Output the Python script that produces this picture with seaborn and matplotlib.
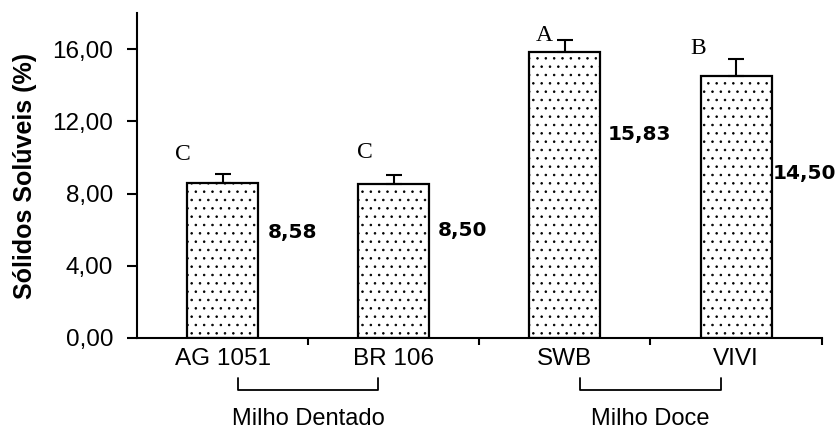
import numpy as np
import matplotlib
matplotlib.use("Agg")
import matplotlib.pyplot as plt
import matplotlib.transforms as mtransforms
import seaborn as sns

# dados
cultivares = ["AG 1051", "BR 106", "SWB", "VIVI"]
solidos = [8.58, 8.50, 15.83, 14.50]
erros = [0.50, 0.50, 0.65, 0.95]
letras = ["C", "C", "A", "B"]
rotulos = ["8,58", "8,50", "15,83", "14,50"]
grupos = ["Milho Dentado", "Milho Doce"]
membros = [[0, 1], [2, 3]]
yticks = [0, 4, 8, 12, 16]
ytick_labels = ["0,00", "4,00", "8,00", "12,00", "16,00"]

# ajuste fino das letras (dx em categorias, dy em % acima da barra de erro)
letra_dx = [-0.23, -0.17, -0.12, -0.22]
letra_dy = [1.1, 1.25, 0.25, 0.6]
# ajuste fino dos rotulos (dx em categorias, altura relativa da barra)
rotulo_dx = [0.265, 0.255, 0.25, 0.215]
rotulo_fy = [0.68, 0.70, 0.71, 0.63]

sns.set_style("ticks")
plt.rcParams["font.family"] = ["Liberation Sans", "DejaVu Sans"]
plt.rcParams["hatch.linewidth"] = 0.6
plt.rcParams["text.color"] = "black"
plt.rcParams["xtick.color"] = "black"
plt.rcParams["ytick.color"] = "black"
plt.rcParams["axes.labelcolor"] = "black"
plt.rcParams["axes.edgecolor"] = "black"

fig = plt.figure(figsize=(8.35, 4.3), dpi=100)
ax = fig.add_axes([0.164, 0.214, 0.82, 0.756])

sns.barplot(x=cultivares, y=solidos, color="white", edgecolor="black",
            linewidth=1.6, width=0.415, hatch="..", errorbar=None, ax=ax)
for p in ax.patches:
    p.set_facecolor("white")
    p.set_edgecolor("black")

pos = np.arange(len(cultivares))
ax.errorbar(pos, solidos, yerr=[np.zeros(len(erros)), erros], fmt="none",
            ecolor="black", elinewidth=1.5, capsize=6, capthick=1.5, zorder=1)

# letras e valores
for i, v in enumerate(solidos):
    ax.text(i + letra_dx[i], v + erros[i] + letra_dy[i], letras[i],
            family="Liberation Serif", fontsize=17, ha="center", va="center")
    ax.text(i + rotulo_dx[i], v * rotulo_fy[i], rotulos[i], family="DejaVu Sans",
            fontweight="bold", fontsize=14.5, ha="left", va="center")

ax.set_xlim(-0.5, 3.5)
ax.set_ylim(0, 18)
ax.set_yticks(yticks)
ax.set_yticklabels(ytick_labels)
ax.set_xticks(pos)
ax.set_xticks([0.5, 1.5, 2.5, 3.5], minor=True)
ax.tick_params(axis="x", which="major", length=0, pad=7, labelsize=17.5)
ax.tick_params(axis="x", which="minor", length=5, width=1.5, direction="out")
ax.tick_params(axis="y", length=7, width=1.5, pad=10, labelsize=17.5)
ax.set_ylabel("Sólidos Solúveis (%)", fontsize=18, fontweight="bold", labelpad=11)
ax.set_xlabel("")
for s in ["top", "right"]:
    ax.spines[s].set_visible(False)
for s in ["left", "bottom"]:
    ax.spines[s].set_linewidth(1.5)

# chaves dos grupos
trans = mtransforms.blended_transform_factory(ax.transData, ax.transAxes)
for nome, m in zip(grupos, membros):
    x0, x1 = m[0] + 0.09, m[-1] - 0.09
    ax.plot([x0, x0, x1, x1], [-0.123, -0.16, -0.16, -0.123], color="black",
            lw=1.3, transform=trans, clip_on=False)
    ax.text((x0 + x1) / 2, -0.25, nome, transform=trans, ha="center",
            va="center", fontsize=17)

fig.savefig("out.png", dpi=100)
